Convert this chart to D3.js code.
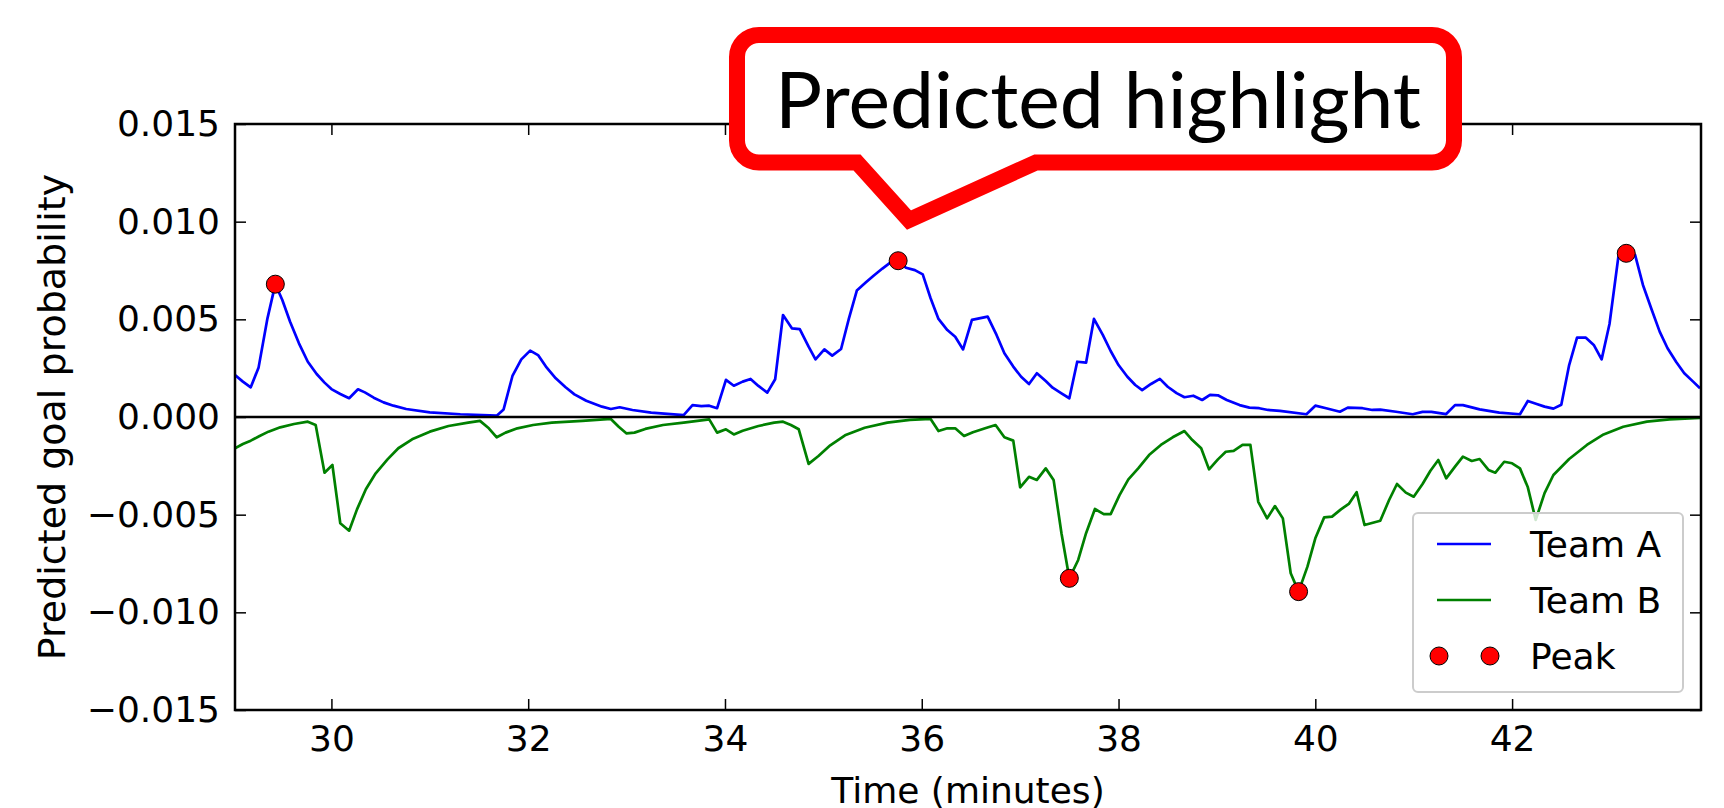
<!DOCTYPE html>
<meta charset="utf-8">
<style>
  body { margin: 0; background: #fff; }
  text { font-family: "DejaVu Sans", sans-serif; }
</style>
<body>
<svg width="1724" height="808"></svg>
<script src="https://d3js.org/d3.v7.min.js"></script>
<script>
// Team A (blue)
var timeA = [29.02,29.10,29.18,29.26,29.35,29.43,29.50,29.58,29.67,29.76,29.85,29.93,30.00,30.09,30.18,30.27,30.34,30.43,30.53,30.63,30.76,31.00,31.31,31.68,31.75,31.84,31.93,32.02,32.10,32.18,32.28,32.38,32.47,32.59,32.75,32.84,32.93,33.06,33.25,33.58,33.67,33.76,33.84,33.92,34.01,34.09,34.18,34.26,34.34,34.43,34.51,34.59,34.68,34.76,34.85,34.92,35.01,35.09,35.18,35.26,35.34,35.43,35.51,35.60,35.68,35.76,35.84,35.93,36.01,36.09,36.17,36.26,36.34,36.42,36.51,36.67,36.76,36.84,36.93,37.01,37.09,37.17,37.26,37.33,37.42,37.50,37.58,37.67,37.75,37.84,37.92,38.00,38.09,38.17,38.24,38.33,38.42,38.50,38.59,38.67,38.76,38.85,38.93,39.01,39.10,39.23,39.33,39.43,39.52,39.64,39.91,40.00,40.11,40.25,40.33,40.48,40.58,40.66,40.82,40.99,41.09,41.18,41.33,41.42,41.50,41.67,41.87,42.08,42.16,42.25,42.33,42.42,42.50,42.58,42.66,42.75,42.83,42.91,42.99,43.08,43.16,43.25,43.33,43.42,43.50,43.58,43.67,43.75,43.84,43.91];
var probA = [0.00215,0.00181,0.00152,0.00254,0.00505,0.0068,0.0060,0.00488,0.00377,0.00283,0.0022,0.00176,0.00143,0.00118,0.00096,0.00142,0.00126,0.00099,0.00075,0.00058,0.00041,0.00024,0.00014,0.00007,0.00039,0.0021,0.00295,0.0034,0.00317,0.00258,0.00198,0.00152,0.00116,0.00083,0.00053,0.00041,0.0005,0.00036,0.00022,0.0001,0.00061,0.00056,0.00058,0.00045,0.0019,0.0016,0.00181,0.00195,0.00159,0.00125,0.00193,0.00522,0.00454,0.0045,0.0036,0.00295,0.00346,0.00314,0.00348,0.00505,0.00647,0.00688,0.00723,0.0076,0.0079,0.0080,0.00764,0.00752,0.0073,0.00608,0.00502,0.00445,0.00411,0.00346,0.00497,0.00514,0.0042,0.00326,0.00258,0.00206,0.00169,0.00224,0.00184,0.0015,0.00121,0.00096,0.00283,0.00278,0.00502,0.0042,0.00338,0.00266,0.00206,0.00164,0.00138,0.00169,0.00195,0.00155,0.00122,0.00101,0.00109,0.00087,0.00113,0.00111,0.00087,0.00061,0.00048,0.00045,0.00036,0.00031,0.00014,0.00058,0.00045,0.00027,0.00048,0.00045,0.00036,0.00038,0.00027,0.00014,0.00026,0.00026,0.00015,0.00061,0.00061,0.00039,0.00022,0.00014,0.00082,0.00067,0.00053,0.00043,0.00063,0.00266,0.00406,0.00406,0.00369,0.00295,0.00476,0.0082,0.00838,0.0083,0.00676,0.00548,0.00437,0.00352,0.0028,0.00224,0.00181,0.00147];

// Team B (green)
var timeB = [29.02,29.10,29.18,29.27,29.36,29.48,29.62,29.76,29.84,29.93,30.01,30.09,30.18,30.26,30.35,30.45,30.57,30.68,30.82,31.00,31.19,31.39,31.51,31.60,31.68,31.77,31.89,32.05,32.24,32.55,32.84,32.92,33.00,33.08,33.19,33.37,33.58,33.84,33.92,34.01,34.09,34.18,34.34,34.50,34.59,34.67,34.75,34.85,34.95,35.07,35.22,35.42,35.65,35.88,36.09,36.17,36.26,36.34,36.43,36.52,36.66,36.75,36.84,36.93,37.00,37.09,37.17,37.26,37.34,37.42,37.50,37.59,37.67,37.76,37.85,37.92,38.01,38.10,38.20,38.31,38.43,38.55,38.67,38.75,38.84,38.92,39.01,39.09,39.17,39.26,39.34,39.42,39.51,39.59,39.67,39.75,39.83,39.92,40.00,40.09,40.17,40.26,40.34,40.42,40.50,40.66,40.75,40.83,40.92,41.00,41.09,41.17,41.25,41.33,41.42,41.50,41.59,41.67,41.76,41.83,41.92,42.00,42.08,42.16,42.24,42.33,42.42,42.58,42.76,42.93,43.13,43.37,43.60,43.91];
var probB = [-0.0016,-0.00138,-0.00121,-0.00097,-0.00075,-0.00053,-0.00036,-0.00024,-0.00041,-0.00285,-0.00246,-0.00544,-0.00582,-0.00473,-0.0037,-0.00288,-0.00217,-0.0016,-0.00114,-0.00075,-0.00046,-0.00029,-0.0002,-0.00058,-0.00104,-0.0008,-0.00058,-0.00041,-0.00029,-0.0002,-0.0001,-0.0005,-0.00084,-0.0008,-0.00061,-0.00041,-0.00029,-0.00012,-0.0008,-0.00063,-0.00089,-0.0007,-0.00046,-0.00029,-0.00024,-0.00041,-0.00063,-0.0024,-0.002,-0.00145,-0.00094,-0.00055,-0.00029,-0.00015,-0.0001,-0.00072,-0.00058,-0.00058,-0.00097,-0.00078,-0.00055,-0.00041,-0.00104,-0.00121,-0.0036,-0.00306,-0.00322,-0.00263,-0.00322,-0.00595,-0.00826,-0.00732,-0.00595,-0.00471,-0.00497,-0.00497,-0.004,-0.00319,-0.00263,-0.00195,-0.00143,-0.00104,-0.00072,-0.00118,-0.0016,-0.00268,-0.00217,-0.00178,-0.00173,-0.00143,-0.00143,-0.00434,-0.00519,-0.00456,-0.00519,-0.008,-0.00894,-0.00766,-0.00621,-0.00514,-0.0051,-0.00473,-0.00445,-0.00385,-0.00553,-0.00531,-0.00425,-0.00343,-0.00387,-0.00408,-0.00343,-0.00275,-0.0022,-0.00314,-0.00254,-0.00203,-0.00225,-0.00215,-0.00271,-0.00285,-0.00229,-0.00237,-0.00263,-0.0036,-0.00527,-0.0039,-0.00297,-0.00215,-0.00143,-0.00089,-0.0005,-0.00024,-0.00012,-0.00005];

// peaks
var peakTime = [29.43, 35.76, 37.50, 39.83, 43.16];
var peakProb = [0.0068, 0.0080, -0.00826, -0.00894, 0.00838];

var xTicks = [30, 32, 34, 36, 38, 40, 42];
var yTicks = [-0.015, -0.010, -0.005, 0.000, 0.005, 0.010, 0.015];
var seriesNames = ["Team A", "Team B", "Peak"];

var svg = d3.select("svg");
var plotL = 235, plotR = 1701, plotT = 124, plotB = 710;

var x = d3.scaleLinear().domain([29.02, 43.92]).range([plotL, plotR]);
var y = d3.scaleLinear().domain([-0.015, 0.015]).range([plotB, plotT]);

var fmtY = function(d) { return d3.format(".3f")(d).replace("-", "\u2212"); };

svg.append("clipPath").attr("id", "plot")
  .append("rect").attr("x", plotL).attr("y", plotT)
  .attr("width", plotR - plotL).attr("height", plotB - plotT);

var line = d3.line()
  .x(function(d) { return x(d[0]); })
  .y(function(d) { return y(d[1]); });

var g = svg.append("g").attr("clip-path", "url(#plot)");

g.append("path")
  .datum(d3.zip(timeA, probA))
  .attr("d", line)
  .attr("fill", "none").attr("stroke", "#0000ff").attr("stroke-width", 2.7)
  .attr("stroke-linejoin", "round");

g.append("path")
  .datum(d3.zip(timeB, probB))
  .attr("d", line)
  .attr("fill", "none").attr("stroke", "#008000").attr("stroke-width", 2.7)
  .attr("stroke-linejoin", "round");

// zero line
g.append("line")
  .attr("x1", plotL).attr("x2", plotR)
  .attr("y1", y(0)).attr("y2", y(0))
  .attr("stroke", "#000").attr("stroke-width", 2.5);

g.selectAll("circle.peak")
  .data(d3.zip(peakTime, peakProb))
  .enter().append("circle")
  .attr("class", "peak")
  .attr("cx", function(d) { return x(d[0]); })
  .attr("cy", function(d) { return y(d[1]); })
  .attr("r", 9)
  .attr("fill", "#ff0000").attr("stroke", "#000").attr("stroke-width", 1);

// axes, ticks inward on all sides
function styleAxis(sel) {
  sel.select(".domain").remove();
  sel.selectAll(".tick line").attr("stroke", "#000").attr("stroke-width", 1.5);
  sel.selectAll("text").style("font-family", "DejaVu Sans").style("font-size", "36px").attr("fill", "#000");
}

svg.append("g").attr("transform", "translate(0," + plotB + ")")
  .call(d3.axisBottom(x).tickValues(xTicks).tickFormat(d3.format("d")).tickSizeInner(-11).tickSizeOuter(0).tickPadding(15))
  .call(styleAxis);
svg.append("g").attr("transform", "translate(0," + plotT + ")")
  .call(d3.axisTop(x).tickValues(xTicks).tickFormat("").tickSizeInner(-11).tickSizeOuter(0))
  .call(styleAxis);
svg.append("g").attr("transform", "translate(" + plotL + ",0)")
  .call(d3.axisLeft(y).tickValues(yTicks).tickFormat(fmtY).tickSizeInner(-11).tickSizeOuter(0).tickPadding(15))
  .call(styleAxis);
svg.append("g").attr("transform", "translate(" + plotR + ",0)")
  .call(d3.axisRight(y).tickValues(yTicks).tickFormat("").tickSizeInner(-11).tickSizeOuter(0))
  .call(styleAxis);

svg.append("rect")
  .attr("x", plotL).attr("y", plotT)
  .attr("width", plotR - plotL).attr("height", plotB - plotT)
  .attr("fill", "none").attr("stroke", "#000").attr("stroke-width", 2.5);

svg.append("text")
  .attr("x", (plotL + plotR) / 2).attr("y", 803)
  .attr("text-anchor", "middle")
  .style("font-size", "36px")
  .text("Time (minutes)");

svg.append("text")
  .attr("transform", "translate(65," + ((plotT + plotB) / 2) + ") rotate(-90)")
  .attr("text-anchor", "middle")
  .style("font-size", "38px")
  .text("Predicted goal probability");

// legend
var lg = svg.append("g").attr("transform", "translate(1413,513)");
lg.append("rect")
  .attr("width", 270).attr("height", 179).attr("rx", 5)
  .attr("fill", "#fff").attr("fill-opacity", 0.8)
  .attr("stroke", "#cccccc").attr("stroke-width", 2);

var rows = lg.selectAll("g.row").data(seriesNames).enter().append("g")
  .attr("transform", function(d, i) { return "translate(0," + (31 + i * 56) + ")"; });
rows.filter(function(d, i) { return i < 2; }).append("line")
  .attr("x1", 24).attr("x2", 78)
  .attr("stroke", function(d, i) { return i === 0 ? "#0000ff" : "#008000"; })
  .attr("stroke-width", 2.7);
rows.filter(function(d, i) { return i === 2; }).selectAll("circle")
  .data([26, 77]).enter().append("circle")
  .attr("cx", function(d) { return d; }).attr("cy", 0).attr("r", 9)
  .attr("fill", "#ff0000").attr("stroke", "#000").attr("stroke-width", 1);
rows.append("text")
  .attr("x", 117).attr("dy", "0.35em")
  .style("font-size", "36px")
  .text(function(d) { return d; });

// callout bubble
var bx0 = 737, bx1 = 1454, by0 = 35, by1 = 162.5, r = 22;
var bubble = d3.path();
bubble.moveTo(bx0 + r, by0);
bubble.lineTo(bx1 - r, by0);
bubble.arcTo(bx1, by0, bx1, by0 + r, r);
bubble.lineTo(bx1, by1 - r);
bubble.arcTo(bx1, by1, bx1 - r, by1, r);
bubble.lineTo(1036, by1);
bubble.lineTo(909, 220);
bubble.lineTo(857, by1);
bubble.lineTo(bx0 + r, by1);
bubble.arcTo(bx0, by1, bx0, by1 - r, r);
bubble.lineTo(bx0, by0 + r);
bubble.arcTo(bx0, by0, bx0 + r, by0, r);
bubble.closePath();

svg.append("path")
  .attr("d", bubble.toString())
  .attr("fill", "#fff").attr("stroke", "#ff0000").attr("stroke-width", 16)
  .attr("stroke-linejoin", "miter").attr("stroke-miterlimit", 10);

svg.append("text")
  .attr("x", 775).attr("y", 128)
  .attr("textLength", 646).attr("lengthAdjust", "spacingAndGlyphs")
  .style("font-family", "Lato, 'Open Sans', sans-serif")
  .style("font-size", "78px")
  .text("Predicted highlight");
</script>
</body>
